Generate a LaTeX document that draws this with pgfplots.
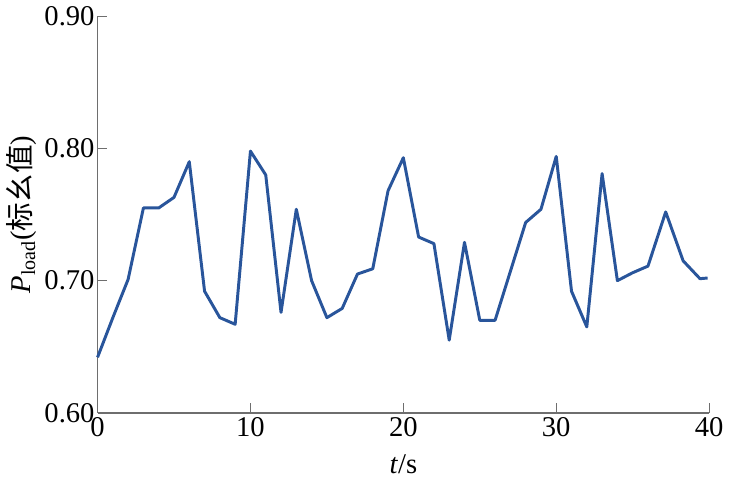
\documentclass[border=0pt]{standalone}
\usepackage{pgfplots}
\pgfplotsset{compat=1.18}
\usepackage{fontspec}
\setmainfont{Liberation Serif}
\newfontfamily\cjk{Noto Sans CJK SC}
\definecolor{lineblue}{RGB}{41,85,155}
\definecolor{axgray}{RGB}{110,110,110}
\begin{document}
\begin{tikzpicture}
\begin{axis}[
  scale only axis,
  width=310pt, height=201pt,
  xmin=0, xmax=40, ymin=0.6, ymax=0.9,
  axis lines=left,
  axis line style={-, axgray, line width=0.8pt},
  xtick={0,10,20,30,40},
  ytick={0.6,0.7,0.8,0.9},
  tick style={axgray, line width=0.6pt},
  tick align=inside,
  major tick length=5pt,
  /pgf/number format/assume math mode=true,
  yticklabel style={/tikz/xshift=2pt, /pgf/number format/.cd, fixed, fixed zerofill, precision=2},
  ticklabel style={font=\fontsize{14.5}{17}\selectfont, text=black},
  xticklabel style={yshift=1pt},
  label style={font=\fontsize{14.5}{17}\selectfont},
  xlabel={\textit{t}/s},
  ylabel={\textit{P}\textsubscript{load}(\cjk 标幺值\rmfamily)},
  xlabel style={yshift=-2pt},
  ylabel style={yshift=-3pt},
  clip=false,
]
\addplot[lineblue, line width=1.5pt, line join=round] coordinates {
(0,0.642) (1,0.672) (2,0.701) (3,0.755) (4,0.755) (5,0.763) (6,0.790)
(7,0.692) (8,0.672) (9,0.667) (10,0.798) (11,0.780) (12,0.676) (13,0.754)
(14,0.700) (15,0.672) (16,0.679) (17,0.705) (18,0.709) (19,0.768) (20,0.793)
(21,0.733) (22,0.728) (23,0.655) (24,0.729) (25,0.670) (26,0.670) (27,0.707)
(28,0.744) (29,0.754) (30,0.794) (31,0.692) (32,0.665) (33,0.781) (34,0.700)
(35,0.706) (36,0.711) (37.16,0.752) (38.3,0.715) (39.4,0.7015) (39.9,0.702)
};
\end{axis}
\path ([yshift=-45pt]current axis.south) -- ([yshift=-44.9pt]current axis.south);
\end{tikzpicture}
\end{document}
